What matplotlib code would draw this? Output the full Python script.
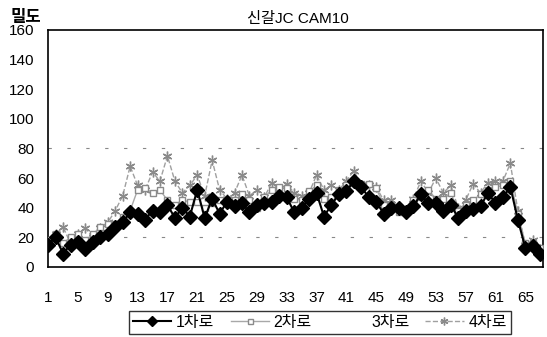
import numpy as np
import matplotlib
matplotlib.use("Agg")
import matplotlib.pyplot as plt

plt.rcParams['font.family'] = ['Liberation Sans', 'Noto Sans CJK KR', 'DejaVu Sans']

# -----------------------------------------------------------
# data (density per lane, 67 intervals)
lane1 = [15, 20, 9, 15, 17, 12, 17, 20, 22, 27,
         30, 37, 36, 32, 38, 37, 42, 33, 40, 34,
         52, 33, 46, 36, 44, 41, 43, 37, 42, 43,
         44, 48, 47, 37, 40, 46, 50, 34, 42, 49,
         51, 58, 54, 47, 44, 36, 40, 40, 37, 41,
         49, 43, 43, 38, 42, 33, 38, 39, 41, 50,
         43, 47, 54, 32, 13, 14, 9]
lane2 = [18, 22, 16, 20, 22, 18, 22, 27, 29, 29,
         34, 38, 52, 53, 50, 52, 45, 42, 45, 44,
         44, 40, 43, 45, 43, 45, 49, 45, 40, 47,
         52, 54, 53, 46, 45, 51, 55, 46, 47, 52,
         55, 57, 56, 56, 53, 42, 42, 37, 37, 45,
         47, 52, 46, 46, 50, 38, 42, 45, 49, 52,
         54, 55, 58, 36, 16, 16, 13]
lane4 = [17, 22, 27, 16, 22, 26, 20, 26, 30, 38,
         48, 68, 55, 52, 64, 58, 75, 58, 50, 55,
         62, 48, 72, 52, 46, 50, 62, 48, 52, 47,
         57, 52, 56, 50, 48, 50, 62, 52, 55, 52,
         58, 65, 55, 55, 54, 45, 45, 40, 38, 46,
         58, 50, 60, 50, 55, 40, 45, 56, 50, 57,
         58, 58, 70, 38, 15, 18, 12]
x = np.arange(1, len(lane1) + 1)

xticks = list(range(1, 66, 4))
yticks = list(range(0, 161, 20))

# -----------------------------------------------------------
fig = plt.figure(figsize=(5.47, 3.37), dpi=100)
ax = fig.add_axes([0.088, 0.208, 0.905, 0.703])

# faint scan grid remnants
for yv in (20, 80):
    ax.axhline(yv, color='#888888', lw=0.8, linestyle=(0, (3, 14)), zorder=0)

ax.plot(x, lane4, color='#a0a0a0', lw=1.0, linestyle='--',
        marker=(6, 2, 0), markersize=7, markeredgewidth=1.0,
        markeredgecolor='#8a8a8a', label='4차로', zorder=2)
ax.plot(x, lane2, color='#a8a8a8', lw=1.0,
        marker='s', markersize=4.5, markerfacecolor='white', markeredgecolor='#8a8a8a',
        label='2차로', zorder=3)
ax.plot([], [], linestyle='none', label='3차로')
ax.plot(x, lane1, color='black', lw=1.5, marker='D', markersize=7, label='1차로', zorder=4)

ax.set_xlim(1, len(lane1) + 0.4)
ax.set_ylim(0, 160)
ax.set_xticks(xticks)
ax.set_yticks(yticks)
ax.tick_params(axis='both', length=0, labelsize=11)
ax.tick_params(axis='x', pad=17)
ax.tick_params(axis='y', pad=10)
for s in ax.spines.values():
    s.set_linewidth(1.2)

fig.text(0.545, 0.945, '신갈JC CAM10', fontsize=11, ha='center', va='center')
fig.text(0.02, 0.948, '밀도', fontsize=12, fontweight='bold', va='center')

handles, labels = ax.get_legend_handles_labels()
order = [labels.index(l) for l in ['1차로', '2차로', '3차로', '4차로']]
leg = fig.legend([handles[i] for i in order], [labels[i] for i in order],
                 loc='center', bbox_to_anchor=(0.585, 0.043), ncol=4,
                 frameon=True, fancybox=False, edgecolor='black', fontsize=11.5,
                 handlelength=2.4, handletextpad=0.3, columnspacing=1.0,
                 borderpad=0.25, markerscale=0.8)
leg.get_frame().set_linewidth(1.0)

fig.savefig('out.png', dpi=100)
